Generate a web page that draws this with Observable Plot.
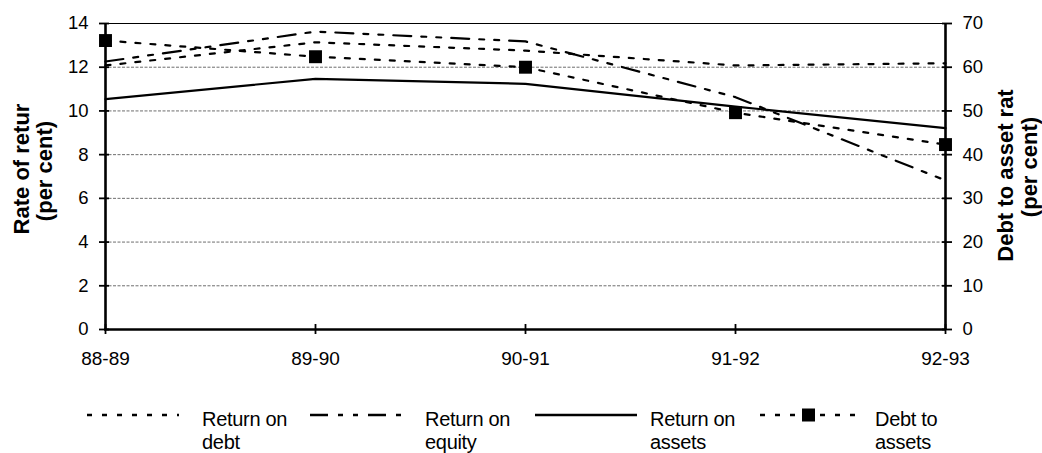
<!DOCTYPE html>
<html>
<head>
<meta charset="utf-8">
<script src="https://cdn.jsdelivr.net/npm/d3@7"></script>
<script src="https://cdn.jsdelivr.net/npm/@observablehq/plot@0.6"></script>
<style>
  html, body { margin: 0; padding: 0; background: #fff; }
  body { width: 1042px; height: 453px; position: relative; overflow: hidden; font-family: "Liberation Sans", Arial, sans-serif; }
  #chart svg { display: block; }
  .lg-sym { position: absolute; top: 405px; height: 20px; }
  .lg-txt { position: absolute; top: 408px; font-size: 20px; line-height: 23px; color: #000; letter-spacing: -0.3px; }
</style>
</head>
<body>
<div id="chart"></div>
<div id="legend"></div>
<script>
// ---- data ----
const years = ["88-89", "89-90", "90-91", "91-92", "92-93"];
const returnOnDebt = [12.08, 13.14, 12.76, 12.08, 12.18];     // per cent (left axis)
const returnOnEquity = [12.26, 13.63, 13.18, 10.63, 6.82];    // per cent (left axis)
const returnOnAssets = [10.54, 11.47, 11.24, 10.2, 9.21];     // per cent (left axis)
const debtToAssets = [66.1, 62.4, 60.0, 49.6, 42.3];          // per cent (right axis)
const leftTicks = [0, 2, 4, 6, 8, 10, 12, 14];
const rightTicks = [0, 10, 20, 30, 40, 50, 60, 70];
const ratio = 5; // right axis units per left axis unit

const rows = (vals) => vals.map((v, i) => ({year: years[i], value: v}));

const styles = {
  debt: {strokeDasharray: "5,10"},
  equity: {strokeDasharray: "18,10,5,10,5,10"},
  assets: {strokeDasharray: null},
  dta: {strokeDasharray: "5,10"}
};

const chart = Plot.plot({
  width: 1042,
  height: 380,
  marginLeft: 104,
  marginRight: 96,
  marginTop: 23,
  marginBottom: 51,
  style: {fontFamily: "'Liberation Sans', Arial, sans-serif", fontSize: "18px", background: "#fff", color: "#000", overflow: "visible"},
  x: {type: "point", domain: years, padding: 0, axis: null},
  y: {domain: [0, 14], axis: null},
  marks: [
    // gridlines
    Plot.ruleY(leftTicks.filter(t => t > 0 && t < 14), {stroke: "#6e6e6e", strokeWidth: 1, strokeDasharray: "3,1.5"}),
    Plot.ruleY([14], {stroke: "#000", strokeWidth: 1.2}),
    // series
    Plot.line(rows(returnOnAssets), {x: "year", y: "value", stroke: "#000", strokeWidth: 2.2}),
    Plot.line(rows(returnOnEquity), {x: "year", y: "value", stroke: "#000", strokeWidth: 2.2, strokeDasharray: styles.equity.strokeDasharray}),
    Plot.line(rows(returnOnDebt), {x: "year", y: "value", stroke: "#000", strokeWidth: 2.2, strokeDasharray: styles.debt.strokeDasharray}),
    Plot.line(rows(debtToAssets), {x: "year", y: d => d.value / ratio, stroke: "#000", strokeWidth: 2.2, strokeDasharray: styles.dta.strokeDasharray}),
    Plot.dot(rows(debtToAssets), {x: "year", y: d => d.value / ratio, symbol: "square", r: 7.3, fill: "#000", stroke: "none"}),
    // axis lines
    Plot.ruleX([years[0], years[years.length - 1]], {stroke: "#000", strokeWidth: 2.6}),
    Plot.ruleY([0], {stroke: "#000", strokeWidth: 2.6}),
    // tick marks crossing axes
    Plot.axisY(leftTicks, {anchor: "left", tickSize: 10, dx: 5, tickFormat: () => "", label: null, strokeWidth: 1.8}),
    Plot.axisY(leftTicks, {anchor: "right", tickSize: 10, dx: -5, tickFormat: () => "", label: null, strokeWidth: 1.8}),
    Plot.axisX(years, {anchor: "bottom", tickSize: 10, dy: -5, tickFormat: () => "", label: null, strokeWidth: 1.8}),
    // tick labels
    Plot.axisY(leftTicks, {anchor: "left", tickSize: 0, tickPadding: 16, fontSize: 18.5, label: null}),
    Plot.axisY(leftTicks, {anchor: "right", tickSize: 0, tickPadding: 16, fontSize: 18.5, label: null, tickFormat: d => String(rightTicks[leftTicks.indexOf(d)])}),
    Plot.axisX(years, {anchor: "bottom", tickSize: 0, tickPadding: 22, fontSize: 19, label: null}),
    // axis titles
    Plot.text(["Rate of retur"], {frameAnchor: "left", dx: -82.7, dy: -7.5, rotate: -90, textAnchor: "middle", lineAnchor: "middle", fontSize: 22, fontWeight: "bold"}),
    Plot.text(["(per cent)"], {frameAnchor: "left", dx: -59.5, dy: -5.5, rotate: -90, textAnchor: "middle", lineAnchor: "middle", fontSize: 22, fontWeight: "bold"}),
    Plot.text(["Debt to asset rat"], {frameAnchor: "right", dx: 59.3, dy: -1, rotate: -90, textAnchor: "middle", lineAnchor: "middle", fontSize: 22, fontWeight: "bold"}),
    Plot.text(["(per cent)"], {frameAnchor: "right", dx: 83.3, dy: -9.5, rotate: -90, textAnchor: "middle", lineAnchor: "middle", fontSize: 22, fontWeight: "bold"})
  ]
});
document.getElementById("chart").appendChild(chart);

// ---- legend ----
const legendItems = [
  {label: ["Return on", "debt"], dash: styles.debt.strokeDasharray, marker: false, sx: 87, sw: 92, tx: 202},
  {label: ["Return on", "equity"], dash: styles.equity.strokeDasharray, marker: false, sx: 310, sw: 96, tx: 425},
  {label: ["Return on", "assets"], dash: null, marker: false, sx: 535, sw: 102, tx: 650},
  {label: ["Debt to", "assets"], dash: styles.dta.strokeDasharray, marker: true, sx: 760, sw: 97, tx: 875}
];
const legend = document.getElementById("legend");
for (const it of legendItems) {
  const svgNS = "http://www.w3.org/2000/svg";
  const s = document.createElementNS(svgNS, "svg");
  s.setAttribute("class", "lg-sym");
  s.setAttribute("width", it.sw);
  s.setAttribute("height", 20);
  s.style.left = it.sx + "px";
  const l = document.createElementNS(svgNS, "line");
  l.setAttribute("x1", 0); l.setAttribute("x2", it.sw);
  l.setAttribute("y1", 10); l.setAttribute("y2", 10);
  l.setAttribute("stroke", "#000"); l.setAttribute("stroke-width", 2.4);
  if (it.dash) l.setAttribute("stroke-dasharray", it.dash);
  s.appendChild(l);
  if (it.marker) {
    const r = document.createElementNS(svgNS, "rect");
    r.setAttribute("x", it.sw / 2 - 6.5); r.setAttribute("y", 3.5);
    r.setAttribute("width", 13); r.setAttribute("height", 13);
    r.setAttribute("fill", "#000");
    s.appendChild(r);
  }
  legend.appendChild(s);
  const t = document.createElement("div");
  t.className = "lg-txt";
  t.style.left = it.tx + "px";
  t.innerHTML = it.label.join("<br>");
  legend.appendChild(t);
}
</script>
</body>
</html>
